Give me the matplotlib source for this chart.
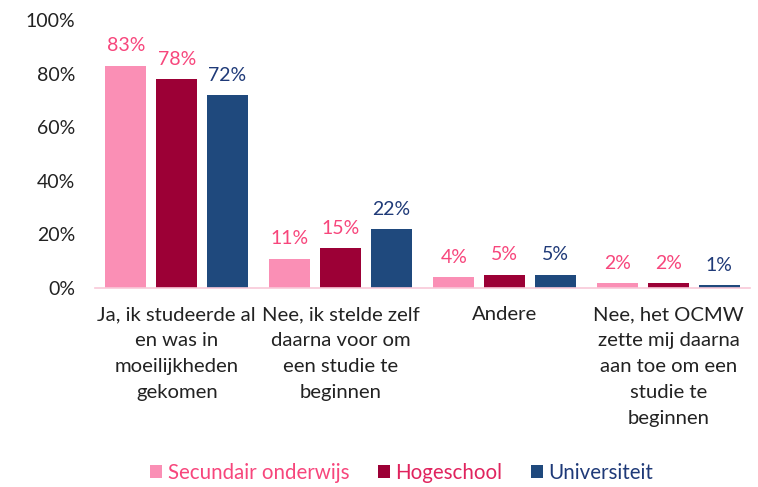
import numpy as np
import matplotlib.pyplot as plt

categories = [
    "Ja, ik studeerde al\nen was in\nmoeilijkheden\ngekomen",
    "Nee, ik stelde zelf\ndaarna voor om\neen studie te\nbeginnen",
    "Andere",
    "Nee, het OCMW\nzette mij daarna\naan toe om een\nstudie te\nbeginnen",
]
series = ["Secundair onderwijs", "Hogeschool", "Universiteit"]
secundair = [83, 11, 4, 2]
hogeschool = [78, 15, 5, 2]
universiteit = [72, 22, 5, 1]
values = [secundair, hogeschool, universiteit]

bar_colors = ["#FA8FB5", "#9C0036", "#1F497D"]
label_colors = ["#F7467C", "#F7467C", "#1F3A78"]
legend_text_colors = ["#F7467C", "#E0245E", "#1F3A78"]

plt.rcParams["font.family"] = ["Lato", "DejaVu Sans"]

fig = plt.figure(figsize=(7.58, 4.87), dpi=100)
ax = fig.add_axes([0.125, 0.4086, 0.865, 0.5504])

x = np.arange(len(categories))
width = 0.25
offset = 0.31
for i, (vals, name) in enumerate(zip(values, series)):
    pos = x + (i - 1) * offset
    bars = ax.bar(pos, vals, width, color=bar_colors[i], label=name)
    for b, v in zip(bars, vals):
        ax.annotate(f"{v}%", (b.get_x() + b.get_width() / 2, v),
                    xytext=(0, 8), textcoords="offset points",
                    ha="center", va="bottom", fontsize=14,
                    color=label_colors[i])

ax.set_xlim(-0.5, len(categories) - 0.5)
ax.set_ylim(0, 100)
ax.set_yticks(range(0, 101, 20))
ax.set_yticklabels([f"{t}%" for t in range(0, 101, 20)], fontsize=14)
ax.set_xticks(x)
ax.set_xticklabels(categories, fontsize=14.6, linespacing=1.65, va="top")
ax.tick_params(axis="both", length=0, colors="#222222")
ax.tick_params(axis="x", pad=13)
ax.tick_params(axis="y", pad=14)
for side in ["top", "right", "left"]:
    ax.spines[side].set_visible(False)
ax.spines["bottom"].set_color("#F8C8D8")
ax.spines["bottom"].set_linewidth(1.2)

leg = fig.legend(loc="lower center", bbox_to_anchor=(0.53, -0.03), ncol=3,
                 frameon=False, fontsize=14.8, handlelength=0.6,
                 handleheight=0.6, handletextpad=0.25, columnspacing=1.4)
for txt, c in zip(leg.get_texts(), legend_text_colors):
    txt.set_color(c)

fig.savefig("out.png", dpi=100)
